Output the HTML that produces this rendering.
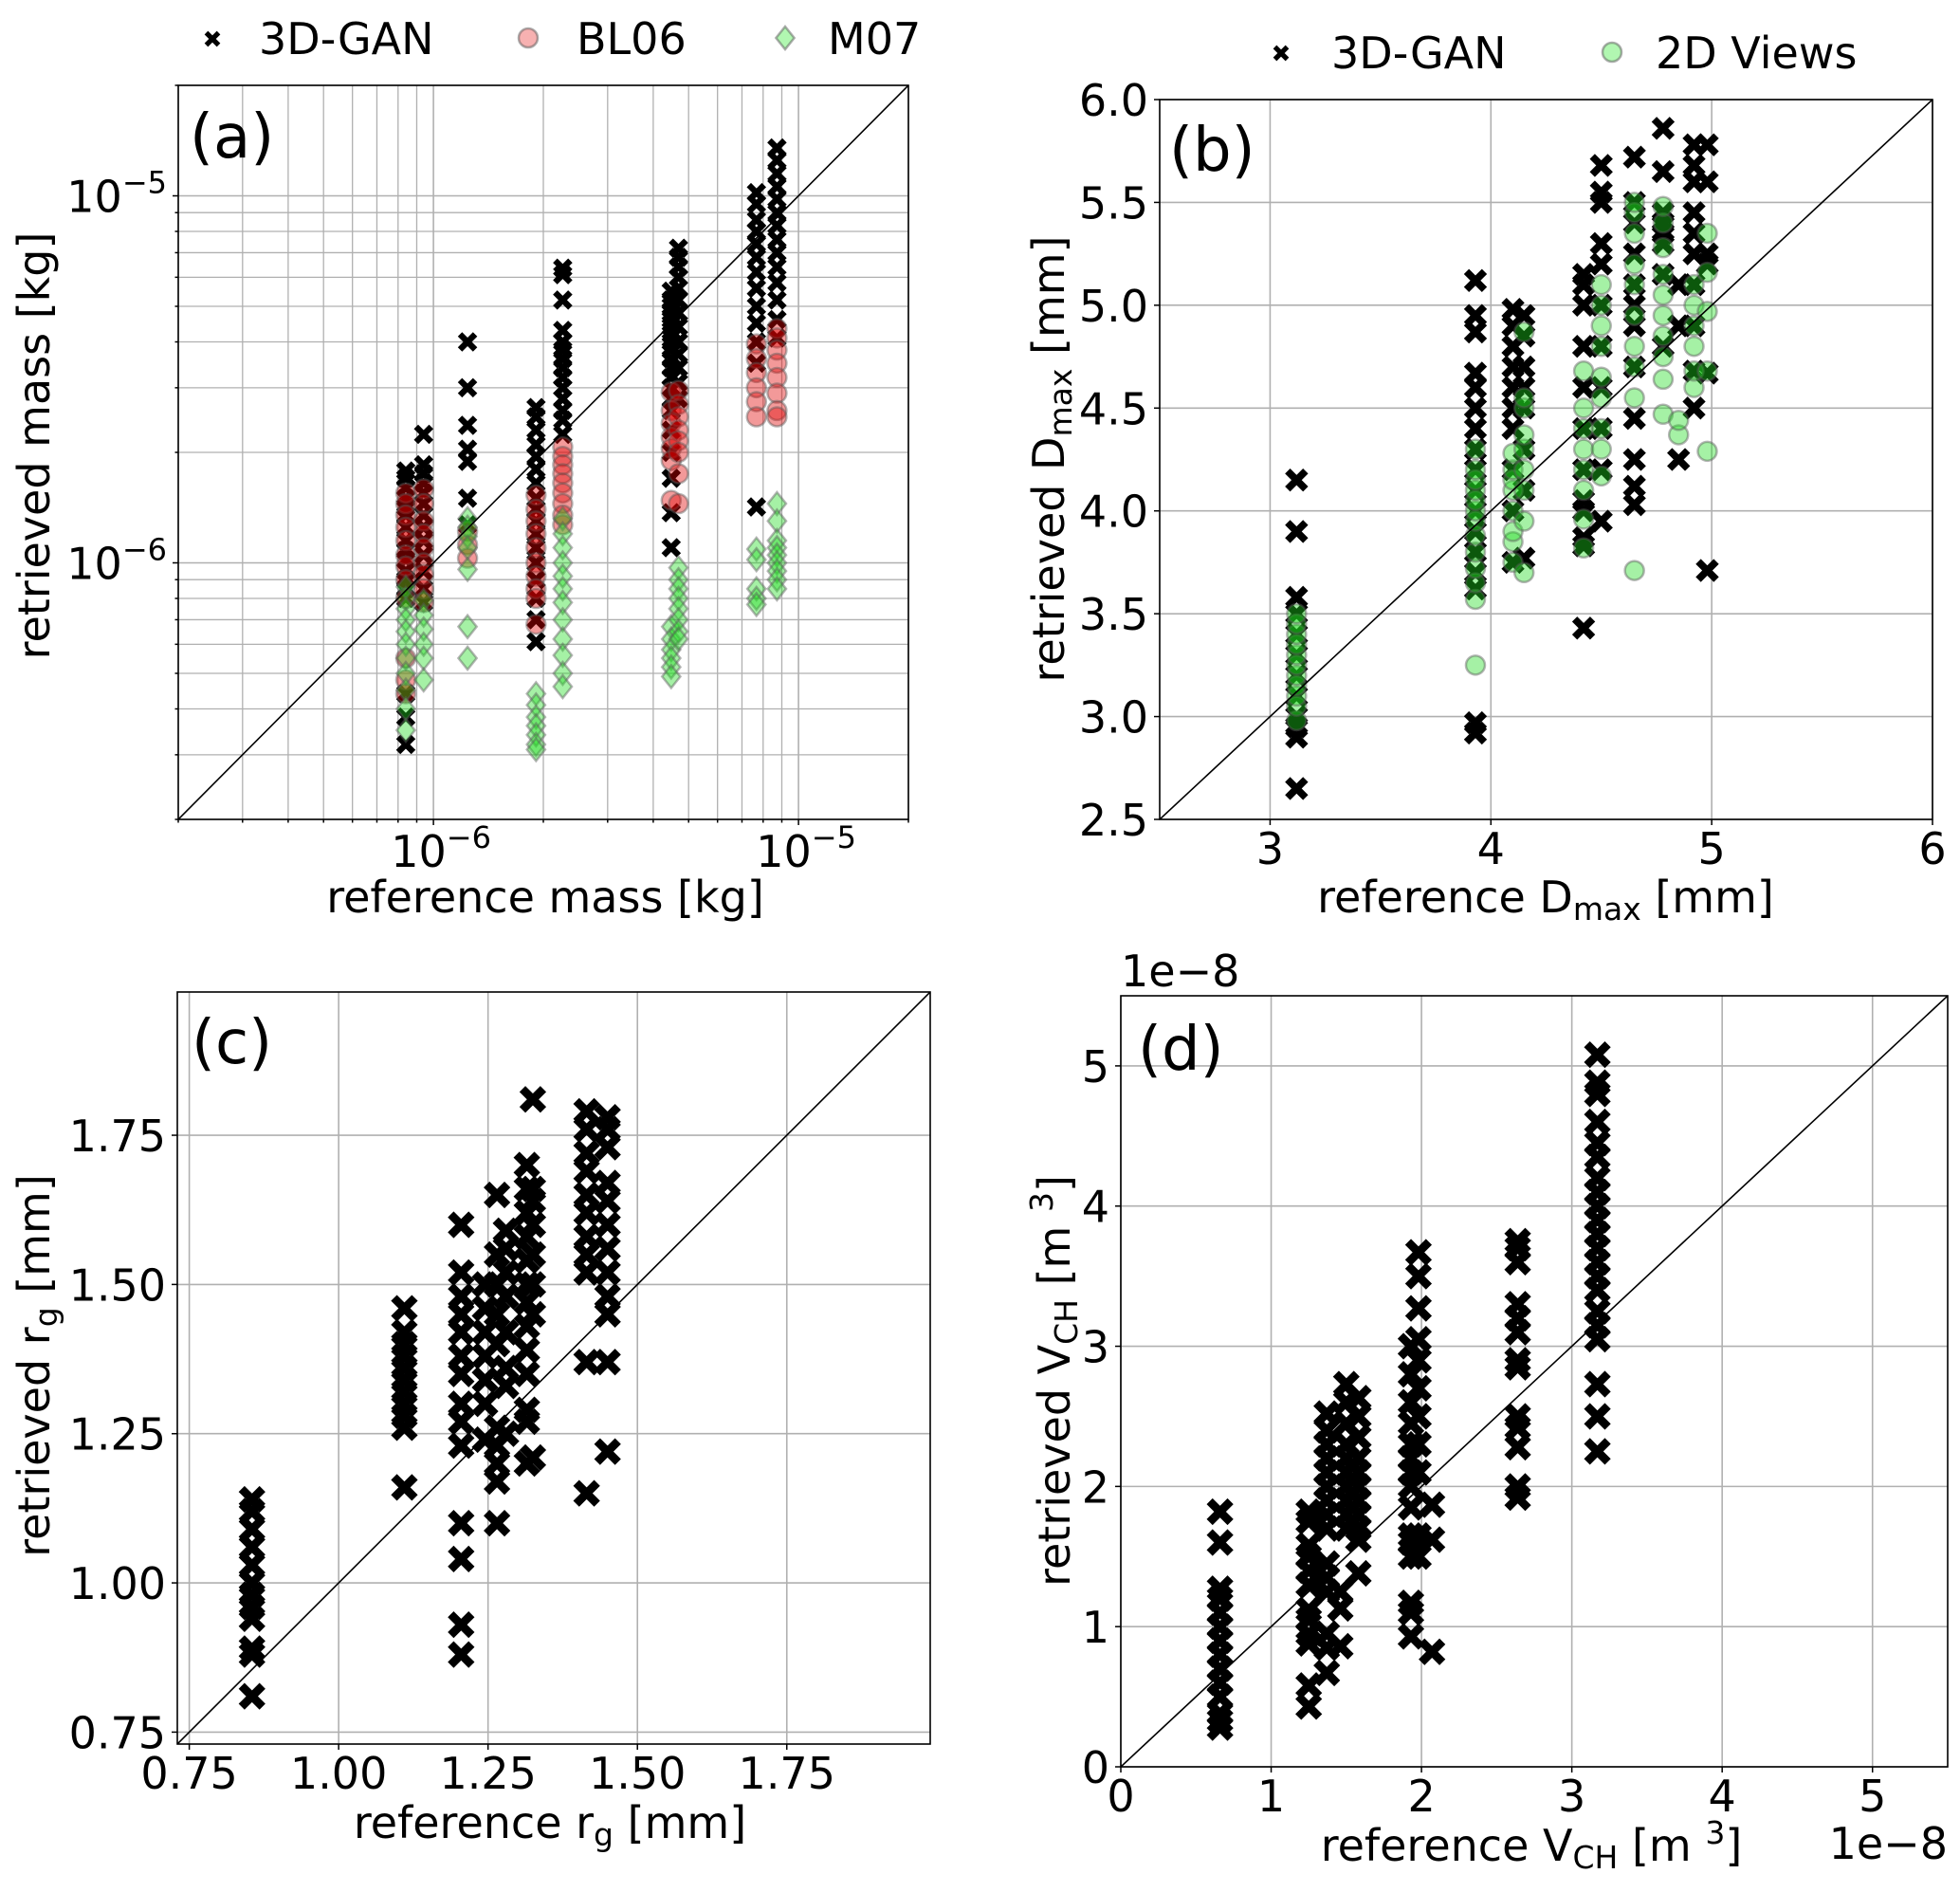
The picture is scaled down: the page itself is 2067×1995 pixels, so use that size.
<!DOCTYPE html>
<html><head><meta charset="utf-8"><style>
html,body{margin:0;padding:0;background:#fff}
svg{display:block;font-family:"DejaVu Sans","Liberation Sans",sans-serif}
</style></head><body>
<svg id="fig" width="2067" height="1995" viewBox="0 0 2067 1995" xmlns="http://www.w3.org/2000/svg"></svg>
<script>
// ===== Panel (a) data: mass, units of 1e-6 kg =====
const aCols = [0.84, 0.94, 1.24, 1.91, 2.26, 4.48, 4.69, 7.67, 8.73];
const aGan = [
 [1.78,1.7,1.6,1.5,1.42,1.35,1.25,1.15,1.08,1.02,0.95,0.9,0.85,0.8,0.44,0.38,0.32],
 [2.24,1.85,1.75,1.65,1.55,1.45,1.35,1.25,1.15,1.05,0.95,0.85,0.78],
 [4.0,3.0,2.37,2.04,1.89,1.5,1.27],
 [2.65,2.5,2.3,2.1,1.95,1.8,1.65,1.5,1.4,1.3,1.2,1.1,1.0,0.9,0.8,0.7,0.61],
 [6.35,6.1,5.2,4.3,4.0,3.8,3.6,3.4,3.2,3.0,2.8,2.6,2.45,2.24],
 [5.5,5.2,5.0,4.8,4.6,4.4,4.2,4.0,3.8,3.6,3.4,3.2,3.0,2.8,2.6,2.3,2.0,1.7,1.37,1.1],
 [7.2,6.8,6.4,6.0,5.6,5.2,4.8,4.4,4.0,3.7,3.4,3.1,2.8],
 [10.2,9.5,8.6,8.0,7.4,6.8,6.2,5.6,5.0,4.5,4.0,3.5,1.42],
 [13.5,12.5,11.5,10.6,9.8,9.0,8.3,7.6,7.0,6.4,5.8,5.2,4.6,4.1]
];
const aBL06 = [
 [1.55,1.45,1.35,1.25,1.15,1.05,0.98,0.9,0.8,0.55,0.48,0.44],
 [1.59,1.45,1.3,1.2,1.1,1.0,0.93,0.85,0.78],
 [1.22,1.12,1.03],
 [1.53,1.4,1.3,1.2,1.1,1.0,0.92,0.85,0.8,0.68],
 [2.07,1.95,1.85,1.75,1.65,1.55,1.45,1.35,1.27],
 [2.92,2.6,2.4,2.2,2.05,1.9,1.48],
 [2.95,2.7,2.5,2.3,2.15,2.0,1.75,1.45],
 [3.95,3.6,3.3,3.0,2.75,2.5],
 [4.35,4.1,3.8,3.5,3.2,2.9,2.6,2.5]
];
const aM07 = [
 [0.86,0.8,0.75,0.7,0.65,0.6,0.55,0.5,0.45,0.4,0.35],
 [0.79,0.72,0.66,0.6,0.55,0.48],
 [1.32,1.25,1.18,1.1,0.96,0.67,0.55],
 [0.44,0.41,0.38,0.36,0.34,0.32,0.31],
 [1.32,1.2,1.1,1.0,0.92,0.85,0.78,0.7,0.62,0.56,0.5,0.46],
 [0.67,0.62,0.58,0.55,0.52,0.49],
 [0.97,0.9,0.85,0.8,0.75,0.7,0.65,0.62],
 [1.09,1.02,0.85,0.8,0.77],
 [1.45,1.3,1.15,1.1,1.05,1.0,0.95,0.9,0.85]
];
// ===== Panel (b) data: Dmax [mm] =====
const bCols = [3.12, 3.93, 4.10, 4.15, 4.42, 4.50, 4.65, 4.78, 4.85, 4.92, 4.98];
const bGan = [
 [2.65,2.9,2.95,3.0,3.1,3.2,3.3,3.4,3.5,3.58,3.9,4.15],
 [2.92,2.97,3.62,3.7,3.8,3.9,4.0,4.1,4.2,4.3,4.4,4.5,4.6,4.67,4.87,4.95,5.12],
 [3.75,4.0,4.2,4.4,4.5,4.6,4.7,4.8,4.9,4.98],
 [3.77,4.1,4.3,4.5,4.6,4.7,4.85,4.95],
 [3.43,3.83,3.87,4.0,4.05,4.2,4.4,4.6,4.8,5.0,5.1,5.15],
 [3.95,4.2,4.4,4.6,4.8,5.0,5.2,5.3,5.5,5.55,5.68],
 [4.03,4.12,4.25,4.45,4.7,4.9,5.0,5.1,5.25,5.4,5.5,5.72],
 [4.8,5.15,5.3,5.35,5.4,5.45,5.65,5.86],
 [4.25,4.9,5.1],
 [4.5,4.68,4.9,5.1,5.25,5.35,5.45,5.6,5.68,5.78],
 [3.71,4.67,5.2,5.25,5.6,5.78]
];
const bViews = [
 [2.98,3.05,3.1,3.15,3.2,3.25,3.3,3.35,3.4,3.45,3.5],
 [3.25,3.57,3.65,3.72,3.8,3.88,3.95,4.0,4.05,4.1,4.15,4.2,4.3],
 [3.75,3.85,3.9,4.0,4.1,4.15,4.2,4.28],
 [3.7,3.95,4.1,4.2,4.3,4.37,4.5,4.55,4.87],
 [3.82,3.96,4.1,4.2,4.3,4.4,4.5,4.68],
 [4.17,4.3,4.4,4.55,4.65,4.8,4.9,5.0,5.1],
 [3.71,4.55,4.7,4.8,4.95,5.1,5.2,5.35,5.45,5.5],
 [4.47,4.64,4.75,4.85,4.95,5.05,5.15,5.28,5.4,5.48],
 [4.37,4.44],
 [4.6,4.68,4.8,4.9,5.0,5.1],
 [4.29,4.68,4.97,5.16,5.35]
];
// ===== Panel (c) data: rg [mm] =====
const cCols = [0.855, 1.11, 1.205, 1.245, 1.265, 1.28, 1.315, 1.325, 1.415, 1.45];
const cGan = [
 [0.81,0.88,0.89,0.94,0.96,0.98,1.0,1.03,1.06,1.09,1.12,1.14],
 [1.16,1.26,1.28,1.3,1.32,1.34,1.36,1.38,1.4,1.42,1.46],
 [0.88,0.93,1.04,1.1,1.23,1.27,1.3,1.35,1.38,1.42,1.45,1.48,1.52,1.6],
 [1.24,1.3,1.34,1.38,1.42,1.46,1.5],
 [1.1,1.17,1.2,1.23,1.26,1.4,1.45,1.5,1.55,1.65],
 [1.25,1.33,1.36,1.42,1.48,1.52,1.56,1.59],
 [1.2,1.27,1.29,1.35,1.39,1.43,1.47,1.5,1.54,1.58,1.62,1.66,1.7],
 [1.21,1.45,1.5,1.55,1.6,1.64,1.66,1.81],
 [1.15,1.37,1.52,1.55,1.58,1.62,1.65,1.69,1.72,1.76,1.79],
 [1.22,1.37,1.45,1.48,1.52,1.56,1.6,1.64,1.67,1.73,1.76,1.78]
];
// ===== Panel (d) data: V_CH, units of 1e-8 m^3 =====
const dCols = [0.66, 1.25, 1.37, 1.46, 1.50, 1.58, 1.93, 1.98, 2.07, 2.64, 3.17];
const dGan = [
 [0.28,0.33,0.38,0.5,0.6,0.7,0.8,0.9,1.0,1.1,1.2,1.27,1.6,1.82],
 [0.43,0.58,0.88,0.95,1.05,1.12,1.3,1.4,1.5,1.58,1.75,1.82],
 [0.67,0.85,0.95,1.25,1.35,1.45,1.7,1.8,1.9,2.0,2.1,2.2,2.3,2.4,2.52],
 [0.86,1.13,1.25],
 [1.7,1.8,1.9,2.0,2.1,2.2,2.3,2.45,2.6,2.73],
 [1.38,1.62,1.7,1.8,1.9,2.0,2.1,2.2,2.35,2.5,2.63],
 [0.93,1.1,1.17,1.5,1.6,1.65,1.85,2.0,2.1,2.2,2.3,2.45,2.6,2.8,3.0],
 [1.5,1.65,2.1,2.3,2.5,2.7,2.9,3.05,3.27,3.5,3.67],
 [0.82,1.62,1.87],
 [1.92,2.0,2.28,2.42,2.5,2.85,2.9,3.1,3.2,3.3,3.6,3.7,3.75],
 [2.25,2.5,2.73,3.05,3.15,3.25,3.4,3.5,3.6,3.7,3.8,3.9,4.0,4.1,4.2,4.35,4.45,4.6,4.8,4.88,5.08]
];

const NS = "http://www.w3.org/2000/svg";
const fig = document.getElementById('fig');
const FS = 46;
function el(tag, attrs, parent){
  const e = document.createElementNS(NS, tag);
  for (const k in attrs) e.setAttribute(k, attrs[k]);
  (parent||fig).appendChild(e);
  return e;
}
function txt(str, x, y, size, anchor, parent, name){
  const t = el('text', {x:x, y:y, 'font-size':size, 'text-anchor':anchor||'middle', fill:'#000'}, parent);
  t.textContent = str;
  
  
  return t;
}
function linScale(d0,d1,r0,r1){ return v => r0 + (v-d0)/(d1-d0)*(r1-r0); }
function logScale(d0,d1,r0,r1){ const l0=Math.log10(d0), l1=Math.log10(d1); return v => r0 + (Math.log10(v)-l0)/(l1-l0)*(r1-r0); }

function xMarker(g, cx, cy, s){
  const h = s/2, w = s*0.4;
  const p = el('path', {d:`M${cx-h},${cy-h}L${cx+h},${cy+h}M${cx-h},${cy+h}L${cx+h},${cy-h}`, stroke:'#000', 'stroke-width':w, fill:'none'}, g);
  
  
}
function circ(g, cx, cy, r, fill, stroke, name){
  const c = el('circle', {cx:cx, cy:cy, r:r, fill:fill, stroke:stroke, 'stroke-width':2.5}, g);
  
  
}
function diamond(g, cx, cy, r, fill, stroke, name){
  const d = el('path', {d:`M${cx},${cy-r}L${cx+r*0.8},${cy}L${cx},${cy+r}L${cx-r*0.8},${cy}Z`, fill:fill, stroke:stroke, 'stroke-width':2.5}, g);
  
  
}
function panel(name, L, T, R, B){
  const g = el('g', {});
  
  
  const clipId = name + '-clip';
  const cp = el('clipPath', {id: clipId}, g);
  el('rect', {x:L, y:T, width:R-L, height:B-T}, cp);
  const grid = el('g', {}, g);
  
  
  const data = el('g', {'clip-path':`url(#${clipId})`}, g);
  
  
  return {g, grid, data, L, T, R, B};
}
function gridLineV(p, x, major){
  el('line', {x1:x, y1:p.T, x2:x, y2:p.B, stroke:'#b0b0b0', 'stroke-width':major?1.6:1.3}, p.grid);
  el('line', {x1:x, y1:p.B, x2:x, y2:p.B+(major?6:3.5), stroke:'#000', 'stroke-width':1.5}, p.g);
}
function gridLineH(p, y, major){
  el('line', {x1:p.L, y1:y, x2:p.R, y2:y, stroke:'#b0b0b0', 'stroke-width':major?1.6:1.3}, p.grid);
  el('line', {x1:p.L-(major?6:3.5), y1:y, x2:p.L, y2:y, stroke:'#000', 'stroke-width':1.5}, p.g);
}
function finish(p, sx, sy, d0, d1){
  const diag = el('line', {x1:sx(d0), y1:sy(d0), x2:sx(d1), y2:sy(d1), stroke:'#000', 'stroke-width':1.6}, p.data);
  
  
  const fr = el('rect', {x:p.L, y:p.T, width:p.R-p.L, height:p.B-p.T, fill:'none', stroke:'#000', 'stroke-width':1.6}, p.g);
  
  
}
function pow10(g, x, y, exp, anchor, name){
  const t = el('text', {x:x, y:y, 'font-size':FS, 'text-anchor':anchor, fill:'#000'}, g);
  
  
  const a = el('tspan', {}, t); a.textContent = '10';
  const b = el('tspan', {dy:-20, 'font-size':32}, t); b.textContent = '\u2212' + exp;
}
function rich(g, x, y, anchor, html, name, transform){
  const t = el('text', {x:x, y:y, 'font-size':FS, 'text-anchor':anchor, fill:'#000'}, g);
  if (transform) t.setAttribute('transform', transform);
  t.setAttribute('xml:space','preserve');
  
  
  t.innerHTML = html;
  return t;
}

// ===== Panel (a) =====
{
  const p = panel('panel-a', 188, 90, 958, 864);
  const sx = logScale(2e-7, 2e-5, p.L, p.R), sy = logScale(2e-7, 2e-5, p.B, p.T);
  for (let e=-7; e<=-5; e++) for (let m=1; m<=9; m++){
    const v = m*Math.pow(10,e);
    if (v < 2e-7*0.999 || v > 2e-5*1.001) continue;
    gridLineV(p, sx(v), m===1); gridLineH(p, sy(v), m===1);
  }
  pow10(p.g, sx(1e-6)+8, p.B+50, 6, 'middle', 'x-tick-label');
  pow10(p.g, sx(1e-5)+8, p.B+50, 5, 'middle', 'x-tick-label');
  pow10(p.g, p.L-12, sy(1e-6)+17, 6, 'end', 'y-tick-label');
  pow10(p.g, p.L-12, sy(1e-5)+17, 5, 'end', 'y-tick-label');
  aCols.forEach((c,i)=>{ aGan[i].forEach(v=> xMarker(p.data, sx(c*1e-6), sy(v*1e-6), 16)); });
  aCols.forEach((c,i)=>{ aBL06[i].forEach(v=> circ(p.data, sx(c*1e-6), sy(v*1e-6), 10, 'rgba(225,0,0,0.4)', 'rgba(90,90,90,0.45)', 'bl06-point')); });
  aCols.forEach((c,i)=>{ aM07[i].forEach(v=> diamond(p.data, sx(c*1e-6), sy(v*1e-6), 12, 'rgba(30,220,30,0.4)', 'rgba(90,90,90,0.45)', 'm07-point')); });
  finish(p, sx, sy, 2e-7, 2e-5);
  txt('(a)', 200, 166, 64, 'start', p.g, 'panel-label');
  txt('reference mass [kg]', 575, 962, FS, 'middle', p.g, 'x-axis-title');
  const yl = txt('retrieved mass [kg]', 0, 0, FS, 'middle', p.g, 'y-axis-title');
  yl.setAttribute('transform', 'translate(52,470) rotate(-90)');
  const lg = el('g', {});  
  xMarker(lg, 224, 41, 13);
  txt('3D-GAN', 273, 57, FS, 'start', lg, 'legend-entry');
  circ(lg, 557, 40, 10, 'rgba(240,100,100,0.5)', 'rgba(90,90,90,0.5)', 'legend-marker');
  txt('BL06', 608, 57, FS, 'start', lg, 'legend-entry');
  diamond(lg, 828, 40, 12, 'rgba(100,240,100,0.5)', 'rgba(90,90,90,0.5)', 'legend-marker');
  txt('M07', 873, 57, FS, 'start', lg, 'legend-entry');
}

// ===== Panel (b) =====
{
  const p = panel('panel-b', 1223, 105, 2038, 864);
  const sx = linScale(2.5, 6, p.L, p.R), sy = linScale(2.5, 6, p.B, p.T);
  [3,4,5,6].forEach(v=>{ gridLineV(p, sx(v), true); txt(String(v), sx(v), p.B+47, FS, 'middle', p.g, 'x-tick-label'); });
  [2.5,3,3.5,4,4.5,5,5.5,6].forEach(v=>{ gridLineH(p, sy(v), true); txt(v.toFixed(1), p.L-12, sy(v)+17, FS, 'end', p.g, 'y-tick-label'); });
  bCols.forEach((c,i)=>{ bGan[i].forEach(v=> xMarker(p.data, sx(c), sy(v), 19)); });
  bCols.forEach((c,i)=>{ bViews[i].forEach(v=> circ(p.data, sx(c), sy(v), 10, 'rgba(30,220,30,0.4)', 'rgba(90,90,90,0.45)', 'views-point')); });
  finish(p, sx, sy, 2.5, 6);
  txt('(b)', 1233, 180, 64, 'start', p.g, 'panel-label');
  rich(p.g, 1630, 962, 'middle', 'reference  D<tspan font-size="33" dy="8">max</tspan><tspan dy="-8"> [mm]</tspan>', 'x-axis-title');
  rich(p.g, 0, 0, 'middle', 'retrieved D<tspan font-size="33" dy="8">max</tspan><tspan dy="-8">  [mm]</tspan>', 'y-axis-title', 'translate(1122,484) rotate(-90)');
  const lg = el('g', {});  
  xMarker(lg, 1351, 56, 13);
  txt('3D-GAN', 1404, 72, FS, 'start', lg, 'legend-entry');
  circ(lg, 1700, 55, 10, 'rgba(100,240,100,0.5)', 'rgba(90,90,90,0.5)', 'legend-marker');
  txt('2D Views', 1746, 72, FS, 'start', lg, 'legend-entry');
}

// ===== Panel (c) =====
{
  const p = panel('panel-c', 187, 1046, 981, 1839);
  const sx = linScale(0.73, 1.99, p.L, p.R), sy = linScale(0.73, 1.99, p.B, p.T);
  [0.75,1.0,1.25,1.5,1.75].forEach(v=>{
    gridLineV(p, sx(v), true); txt(v.toFixed(2), sx(v), p.B+47, FS, 'middle', p.g, 'x-tick-label');
    gridLineH(p, sy(v), true); txt(v.toFixed(2), p.L-12, sy(v)+17, FS, 'end', p.g, 'y-tick-label');
  });
  cCols.forEach((c,i)=>{ cGan[i].forEach(v=> xMarker(p.data, sx(c), sy(v), 22)); });
  finish(p, sx, sy, 0.73, 1.99);
  txt('(c)', 202, 1121, 64, 'start', p.g, 'panel-label');
  rich(p.g, 580, 1938, 'middle', 'reference r<tspan font-size="33" dy="8">g</tspan><tspan dy="-8"> [mm]</tspan>', 'x-axis-title');
  rich(p.g, 0, 0, 'middle', 'retrieved r<tspan font-size="33" dy="8">g</tspan><tspan dy="-8"> [mm]</tspan>', 'y-axis-title', 'translate(52,1440) rotate(-90)');
}

// ===== Panel (d) =====
{
  const p = panel('panel-d', 1182, 1050, 2054, 1863);
  const sx = linScale(0, 5.5, p.L, p.R), sy = linScale(0, 5.5, p.B, p.T);
  [0,1,2,3,4,5].forEach(v=>{
    gridLineV(p, sx(v), true); txt(String(v), sx(v), p.B+47, FS, 'middle', p.g, 'x-tick-label');
    gridLineH(p, sy(v), true); txt(String(v), p.L-12, sy(v)+17, FS, 'end', p.g, 'y-tick-label');
  });
  dGan.forEach((col,i)=>{ col.forEach(v=> xMarker(p.data, sx(dCols[i]), sy(v), 22)); });
  finish(p, sx, sy, 0, 5.5);
  txt('(d)', 1200, 1128, 64, 'start', p.g, 'panel-label');
  txt('1e\u22128', 1182, 1040, FS, 'start', p.g, 'y-offset-label');
  txt('1e\u22128', 2054, 1960, FS, 'end', p.g, 'x-offset-label');
  rich(p.g, 1615, 1962, 'middle', 'reference V<tspan font-size="33" dy="8">CH</tspan><tspan dy="-8"> [m </tspan><tspan font-size="33" dy="-18">3</tspan><tspan dy="18">]</tspan>', 'x-axis-title');
  rich(p.g, 0, 0, 'middle', 'retrieved V<tspan font-size="33" dy="8">CH</tspan><tspan dy="-8"> [m </tspan><tspan font-size="33" dy="-18">3</tspan><tspan dy="18">]</tspan>', 'y-axis-title', 'translate(1128,1456) rotate(-90)');
}
</script>
</body></html>
